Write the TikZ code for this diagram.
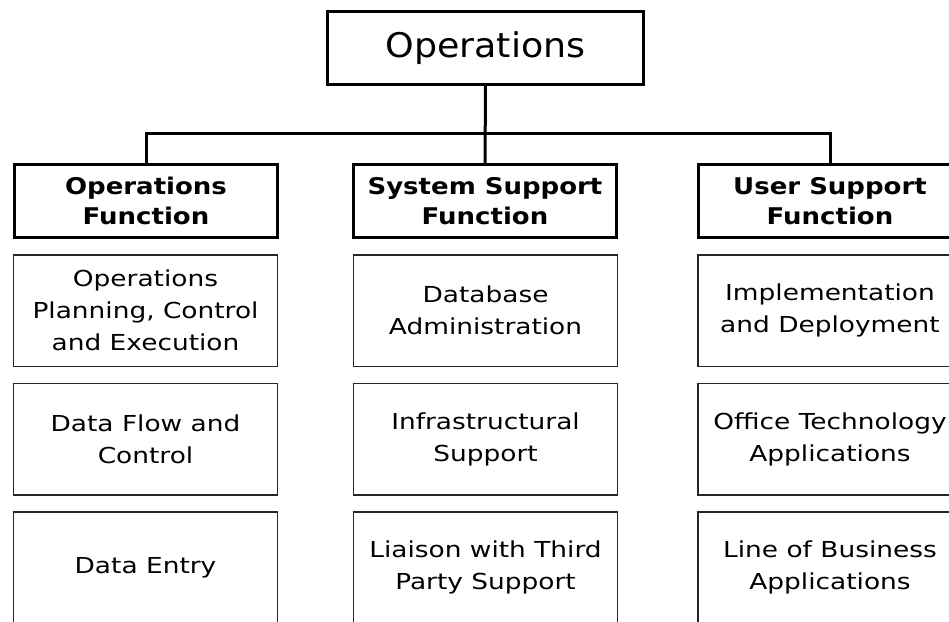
\documentclass[tikz,border=0pt]{standalone}
\usepackage{fontspec}
\newfontfamily\regf[FakeStretch=1.2]{DejaVu Sans}
\newfontfamily\hdrf[FakeStretch=1.13]{DejaVu Sans}
\newfontfamily\topf[FakeStretch=1.07]{DejaVu Sans}
\begin{document}
\begin{tikzpicture}[x=1pt,y=-1pt,
  topbox/.style={draw=black,line width=3pt,rectangle,outer sep=0pt,inner sep=0pt,
    minimum width=316pt,minimum height=73pt,font=\topf\fontsize{34}{40}\selectfont},
  hdrbox/.style={draw=black,line width=3pt,rectangle,outer sep=0pt,inner sep=0pt,
    minimum width=263pt,minimum height=73pt,align=center,
    font=\hdrf\bfseries\fontsize{23}{30}\selectfont},
  subbox/.style={draw=black!85,line width=1.5pt,rectangle,outer sep=0pt,inner sep=0pt,
    minimum width=264pt,minimum height=111.5pt,align=center,
    font=\regf\fontsize{22}{32}\selectfont},
  link/.style={draw=black,line width=3pt}]
\useasboundingbox (0,0) rectangle (949,621);
\clip (0,0) rectangle (949,621);
\fill[white] (0,0) rectangle (949,621);
% top
\node[topbox] (top) at (485.5,48) {Operations};
% headers
\node[hdrbox] (h1) at (146,201) {Operations\\Function};
\node[hdrbox] (h2) at (485,201) {System Support\\Function};
\node[hdrbox] (h3) at (830,201) {User Support\\Function};
% connectors
\coordinate (bus) at (485,133);
\draw[link] (top.south) -- (h2.north);
\draw[link] (h1.north) |- (bus) -| (h3.north);
% column 1
\node[subbox] (a1) at (145.5,310.5) {Operations\\Planning, Control\\and Execution};
\node[subbox] (a2) at (145.5,439) {Data Flow and\\Control};
\node[subbox] (a3) at (145.5,567.5) {Data Entry};
% column 2
\node[subbox] (b1) at (485.5,310.5) {Database\\Administration};
\node[subbox] (b2) at (485.5,439) {Infrastructural\\Support};
\node[subbox] (b3) at (485.5,567.5) {Liaison with Third\\Party Support};
% column 3
\node[subbox] (c1) at (830,310.5) {Implementation\\and Deployment};
\node[subbox] (c2) at (830,439) {Office Technology\\Applications};
\node[subbox] (c3) at (830,567.5) {Line of Business\\Applications};
\end{tikzpicture}
\end{document}
